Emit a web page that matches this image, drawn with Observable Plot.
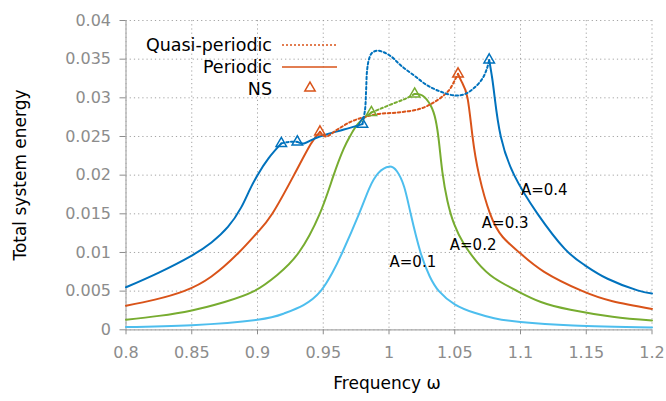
<!DOCTYPE html>
<html>
<head>
<meta charset="utf-8">
<script src="https://cdn.jsdelivr.net/npm/d3@7"></script>
<script src="https://cdn.jsdelivr.net/npm/@observablehq/plot@0.6"></script>
<style>
  html, body { margin: 0; padding: 0; background: white; }
  svg { display: block; }
</style>
</head>
<body>
<div id="chart"></div>
<script>
// ---- data ----
const xTicks = [0.8, 0.85, 0.9, 0.95, 1, 1.05, 1.1, 1.15, 1.2];
const yTicks = [0, 0.005, 0.01, 0.015, 0.02, 0.025, 0.03, 0.035, 0.04];

const amplitudes = ["A=0.1", "A=0.2", "A=0.3", "A=0.4"];
const colors = ["#4DBEEE", "#77AC30", "#D95319", "#0072BD"];

// A = 0.1 (no NS points)
const omega01 = [0.80, 0.85, 0.9, 0.92, 0.935, 0.948, 0.957, 0.9645, 0.9772, 0.985, 0.992, 1.0, 1.006, 1.0115, 1.0165, 1.024, 1.031, 1.038, 1.05, 1.065, 1.08, 1.1, 1.14, 1.2];
const energy01 = [0.00035, 0.0006, 0.0013, 0.0021, 0.0032, 0.0050, 0.0074, 0.0100, 0.0150, 0.0183, 0.0203, 0.0211, 0.0205, 0.0185, 0.0150, 0.0100, 0.0069, 0.0050, 0.0033, 0.0022, 0.0015, 0.0010, 0.00055, 0.0003];
const ns01 = [];
const nsE01 = [];

// A = 0.2
const omega02 = [0.80, 0.825, 0.85, 0.875, 0.8973, 0.915, 0.9314, 0.9473, 0.9575, 0.9655, 0.9709, 0.9767, 0.9866, 0.9937, 1.0038, 1.0127, 1.0195, 1.0254, 1.0317, 1.0355, 1.038, 1.0406, 1.0444, 1.0495, 1.057, 1.0673, 1.08, 1.0977, 1.1155, 1.138, 1.17, 1.2];
const energy02 = [0.0013, 0.0018, 0.0025, 0.0036, 0.0050, 0.0071, 0.0100, 0.0150, 0.0198, 0.0234, 0.0252, 0.0267, 0.0281, 0.0286, 0.0293, 0.0299, 0.0305, 0.0303, 0.0290, 0.0271, 0.0243, 0.0204, 0.0167, 0.0137, 0.0111, 0.0087, 0.0067, 0.0050, 0.0036, 0.0026, 0.0017, 0.0012];
const ns02 = [0.9866, 1.0195];
const nsE02 = [0.0281, 0.0305];

// A = 0.3
const omega03 = [0.80, 0.822, 0.844, 0.865, 0.8858, 0.9, 0.9112, 0.9277, 0.9404, 0.9475, 0.952, 0.9607, 0.9709, 0.981, 0.9912, 1.0064, 1.024, 1.0368, 1.0457, 1.0507, 1.0525, 1.0555, 1.0597, 1.0635, 1.0685, 1.0769, 1.0865, 1.0991, 1.118, 1.1472, 1.17, 1.2];
const energy03 = [0.0031, 0.0039, 0.0050, 0.0069, 0.0100, 0.0126, 0.0150, 0.0200, 0.0240, 0.0256, 0.0250, 0.0259, 0.0269, 0.0275, 0.0279, 0.0281, 0.0286, 0.0297, 0.0310, 0.0325, 0.0331, 0.0320, 0.0300, 0.0250, 0.0200, 0.0150, 0.0120, 0.0100, 0.0075, 0.0050, 0.0037, 0.0027];
const ns03 = [0.9475, 1.0525];
const nsE03 = [0.0256, 0.0331];

// A = 0.4
const omega04 = [0.80, 0.825, 0.85, 0.865, 0.8775, 0.8875, 0.8935, 0.9, 0.9085, 0.9181, 0.924, 0.9303, 0.9354, 0.943, 0.953, 0.9657, 0.9798, 0.9818, 0.9826, 0.9833, 0.9848, 0.987, 0.991, 0.996, 1.002, 1.0089, 1.019, 1.0292, 1.0393, 1.05, 1.058, 1.0655, 1.0711, 1.0745, 1.0762, 1.0785, 1.0804, 1.085, 1.0952, 1.113, 1.1335, 1.1485, 1.1662, 1.189, 1.2];
const energy04 = [0.0055, 0.0074, 0.0096, 0.0113, 0.0133, 0.0158, 0.0179, 0.0200, 0.0222, 0.0241, 0.0243, 0.0243, 0.0241, 0.0247, 0.0253, 0.0259, 0.0266, 0.0285, 0.0310, 0.0335, 0.0350, 0.0358, 0.0361, 0.0359, 0.0353, 0.0342, 0.0329, 0.0316, 0.0308, 0.0303, 0.0305, 0.0314, 0.0325, 0.0338, 0.0349, 0.0325, 0.0300, 0.0250, 0.0200, 0.0150, 0.0105, 0.0084, 0.0066, 0.0051, 0.0047];
const ns04 = [0.9181, 0.9303, 0.9798, 1.0762];
const nsE04 = [0.0241, 0.0243, 0.0266, 0.0349];

// curve annotations
const labelOmega = [1.0004, 1.0462, 1.0706, 1.1003];
const labelEnergy = [0.0087, 0.0109, 0.0138, 0.0180];

// ---- build tables ----
const series = [
  [omega01, energy01, ns01, nsE01],
  [omega02, energy02, ns02, nsE02],
  [omega03, energy03, ns03, nsE03],
  [omega04, energy04, ns04, nsE04]
];
const curveRows = [];
const nsRows = [];
series.forEach(([xs, ys, nx, ny], s) => {
  xs.forEach((x, i) => {
    const k = nx.filter(n => n < x - 1e-9).length;
    curveRows.push({x, y: ys[i], amp: amplitudes[s], seg: k, z: s + "-" + k});
    if (nx.some(n => Math.abs(n - x) < 1e-9)) {
      curveRows.push({x, y: ys[i], amp: amplitudes[s], seg: k + 1, z: s + "-" + (k + 1)});
    }
  });
  nx.forEach((x, i) => nsRows.push({x, y: ny[i], amp: amplitudes[s]}));
});
const periodic = curveRows.filter(d => d.seg % 2 === 0);
const quasi = curveRows.filter(d => d.seg % 2 === 1);
const labels = amplitudes.map((t, i) => ({t, x: labelOmega[i], y: labelEnergy[i]}));

const font = "DejaVu Sans";
const grey = "#8c8c8c";

const chart = Plot.plot({
  width: 666,
  height: 401,
  marginLeft: 125.5,
  marginRight: 14.5,
  marginTop: 20,
  marginBottom: 71.7,
  style: {fontFamily: font, background: "white", overflow: "visible"},
  x: {domain: [0.8, 1.2]},
  y: {domain: [0, 0.04]},
  color: {domain: amplitudes, range: colors},
  marks: [
    Plot.gridX(xTicks, {stroke: "#999", strokeOpacity: 0.9, strokeDasharray: "1.2,3"}),
    Plot.gridY(yTicks, {stroke: "#999", strokeOpacity: 0.9, strokeDasharray: "1.2,3"}),
    Plot.ruleY([0], {stroke: "#aaa", strokeWidth: 1.2}),
    Plot.ruleX([0.8], {stroke: "#aaa", strokeWidth: 1.2}),
    Plot.axisX(xTicks, {tickSize: 5, tickPadding: 12, fontSize: 16, color: grey, tickFormat: d => String(d), label: null}),
    Plot.axisY(yTicks, {tickSize: 6, tickPadding: 9, fontSize: 16, color: grey, tickFormat: d => String(d), label: null}),
    Plot.line(periodic, {x: "x", y: "y", z: "z", stroke: "amp", strokeWidth: 2, curve: "natural"}),
    Plot.line(quasi, {x: "x", y: "y", z: "z", stroke: "amp", strokeWidth: 2, strokeDasharray: "2.5,2.5", curve: "catmull-rom"}),
    Plot.dot(nsRows, {x: "x", y: "y", stroke: "amp", fill: "none", symbol: "triangle", r: 3.9, strokeWidth: 1.5}),
    Plot.text(labels, {x: "x", y: "y", text: "t", textAnchor: "start", fontSize: 15, fill: "black"})
  ]
});

document.getElementById("chart").appendChild(chart);

// axis titles and legend
const svg = d3.select(chart);
svg.append("text")
  .attr("x", 387).attr("y", 389)
  .attr("text-anchor", "middle")
  .attr("font-family", font).attr("font-size", 17).attr("fill", "black")
  .text("Frequency ω");
svg.append("text")
  .attr("transform", "translate(26,175) rotate(-90)")
  .attr("text-anchor", "middle")
  .attr("font-family", font).attr("font-size", 17).attr("fill", "black")
  .text("Total system energy");

const leg = svg.append("g").attr("font-family", font).attr("font-size", 17.5).attr("fill", "black");
const legItems = ["Quasi-periodic", "Periodic", "NS"];
legItems.forEach((t, i) => {
  const y = 45 + i * 22;
  leg.append("text").attr("x", 272).attr("y", y).attr("dy", "0.35em").attr("text-anchor", "end").text(t);
});
leg.append("line").attr("x1", 282).attr("x2", 337).attr("y1", 45).attr("y2", 45)
  .attr("stroke", colors[2]).attr("stroke-width", 1.6).attr("stroke-dasharray", "2,2");
leg.append("line").attr("x1", 282).attr("x2", 337).attr("y1", 67).attr("y2", 67)
  .attr("stroke", colors[2]).attr("stroke-width", 1.6);
leg.append("path").attr("d", d3.symbol(d3.symbolTriangle, 46)()).attr("transform", "translate(310,88)")
  .attr("fill", "none").attr("stroke", colors[2]).attr("stroke-width", 1.5);
</script>
</body>
</html>
